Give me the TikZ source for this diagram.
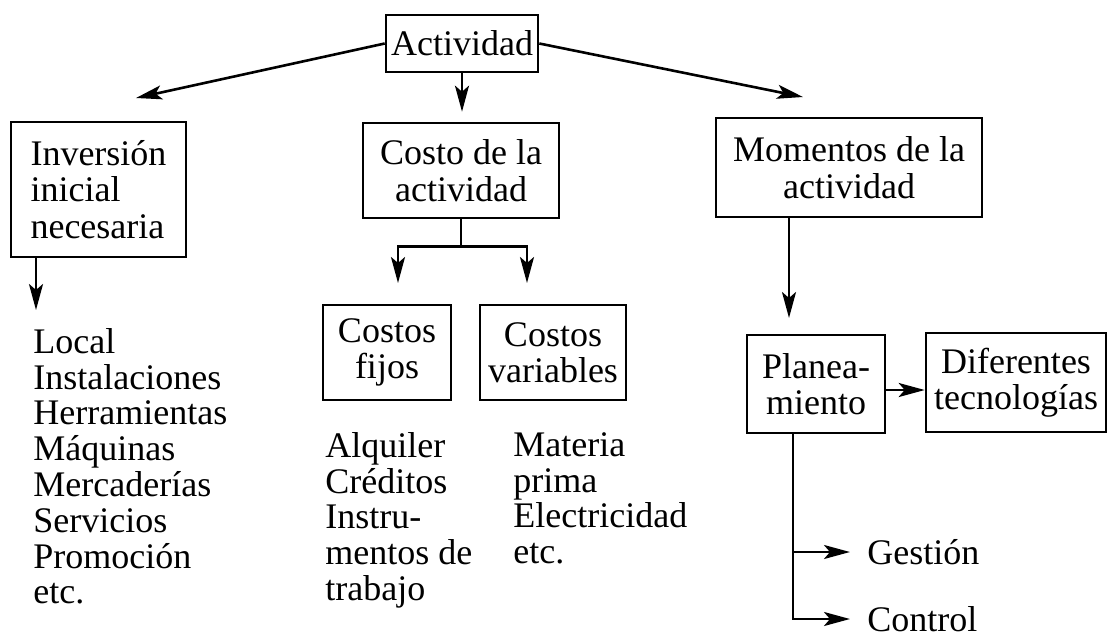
\documentclass[tikz,border=0pt]{standalone}
\usepackage{fontspec}
\setmainfont{Liberation Serif}
\usetikzlibrary{arrows.meta}

\tikzset{
  caja/.style={draw, line width=1.3pt, align=center, inner sep=0pt,
    font=\fontsize{18}{18.2}\selectfont},
  lista/.style={align=left, anchor=north west, inner sep=0pt,
    font=\fontsize{18}{17.9}\selectfont},
  etiq/.style={anchor=west, inner xsep=8.5pt, inner ysep=0pt,
    font=\fontsize{18}{18}\selectfont},
  flecha/.style={line width=1.3pt, -{Stealth[length=13pt,width=7pt,inset=3pt]}}
}

\begin{document}
\begin{tikzpicture}[x=0.5pt, y=-0.5pt]
\useasboundingbox (0,0) rectangle (1108,638);

% cajas
\node[caja, minimum width=76pt, minimum height=28.5pt] (akt) at (462,43.5) {Actividad};
\node[caja, align=left, minimum width=87.5pt, minimum height=67.5pt] (inv) at (98.5,189.5) {Inversión\\inicial\\necesaria};
\node[caja, minimum width=98pt, minimum height=47.5pt] (costo) at (461,170.5) {Costo de la\\actividad};
\node[caja, minimum width=133pt, minimum height=49.5pt] (mom) at (849,167.5) {Momentos de la\\actividad};
\node[caja, minimum width=64pt, minimum height=47.5pt] (fijos) at (387,352.5) {Costos\\fijos};
\node[caja, minimum width=73pt, minimum height=47.5pt] (vari) at (553,352.5) {Costos\\variables};
\node[caja, minimum width=69pt, minimum height=49pt] (plan) at (816,384) {Planea-\\miento};
\node[caja, minimum width=90pt, minimum height=49.5pt] (dif) at (1016,382.5) {Diferentes\\tecnologías};

% listas
\node[lista] (linv) at (33,328) {Local\\Instalaciones\\Herramientas\\Máquinas\\Mercaderías\\Servicios\\Promoción\\etc.};
\node[lista] (lfij) at (325,432) {Alquiler\\Créditos\\Instru-\\mentos de\\trabajo};
\node[lista] (lvar) at (513,432) {Materia\\prima\\Electricidad\\etc.};
\node[etiq] (gest) at (850,552) {Gestión};
\node[etiq] (ctrl) at (850,619) {Control};

% puntas libres
\coordinate (pL) at (136,98);
\coordinate (pR) at (803,97);
\coordinate (pI) at (36,310);
\coordinate (pF) at (398,283);
\coordinate (pV) at (527,283);
\coordinate (pM) at (789,318);

\draw[flecha] (akt.west) -- (pL);
\draw[flecha] (akt.east) -- (pR);
\draw[flecha, shorten >=5pt] (akt) -- (akt |- costo.north);
\draw[flecha] (inv.south -| pI) -- (pI);
\draw[flecha] (costo.south) -- ++(0,27) -| (pF);
\draw[flecha] (costo.south) ++(0,27) -| (pV);
\draw[flecha] (mom.south -| pM) -- (pM);
\draw[flecha] ([yshift=-3pt]plan.east) -- ([yshift=-3pt]plan.east -| dif.west);
\draw[flecha] ([xshift=-11.5pt]plan.south) |- (gest.west);
\draw[flecha] ([xshift=-11.5pt]plan.south) |- (ctrl.west);

\end{tikzpicture}
\end{document}
